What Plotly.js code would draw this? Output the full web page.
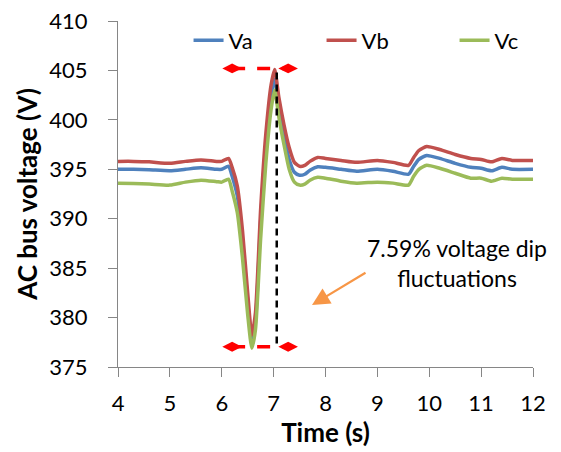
<!DOCTYPE html>
<html>
<head>
<meta charset="utf-8">
<script src="https://cdn.plot.ly/plotly-3.0.1.min.js"></script>
<style>html,body{margin:0;padding:0;background:#fff;}#chart{width:561px;height:452px;}</style>
</head>
<body>
<div id="chart"></div>
<script>
// Time samples (s)
const time = [4, 4.3, 4.6, 5.0, 5.3, 5.6, 5.9, 6.0, 6.13, 6.2, 6.3, 6.4, 6.5, 6.58, 6.65, 6.75, 6.85, 6.95, 7.02, 7.1, 7.2, 7.3, 7.4, 7.5, 7.6, 7.7, 7.85, 8.0, 8.3, 8.6, 9.0, 9.3, 9.6, 9.7, 9.8, 9.95, 10.2, 10.5, 10.8, 11.0, 11.2, 11.4, 11.6, 12];
const va = [395.0, 395.0, 394.95, 394.85, 395.0, 395.15, 395.0, 395.0, 395.3, 394.3, 392.3, 387.8, 381.6, 377.6, 379.6, 389.8, 397.6, 402.5, 404.1, 401.2, 398.3, 396.0, 394.7, 394.4, 394.5, 394.9, 395.25, 395.2, 395.0, 394.8, 395.0, 394.8, 394.5, 395.3, 396.0, 396.4, 396.1, 395.6, 395.2, 395.1, 394.85, 395.2, 395.0, 395.0];
const vb = [395.8, 395.8, 395.75, 395.6, 395.8, 395.95, 395.8, 395.8, 396.1, 395.2, 393.3, 388.8, 382.5, 378.2, 380.5, 391.0, 398.6, 403.5, 405.1, 402.3, 399.5, 397.2, 395.7, 395.3, 395.4, 395.8, 396.2, 396.1, 395.9, 395.7, 395.9, 395.7, 395.4, 396.2, 396.9, 397.3, 397.0, 396.5, 396.1, 396.0, 395.75, 396.1, 395.9, 395.9];
const vc = [393.6, 393.55, 393.5, 393.4, 393.7, 393.9, 393.75, 393.7, 394.0, 392.8, 390.6, 386.0, 380.3, 376.9, 378.8, 388.0, 395.6, 401.0, 403.0, 400.3, 397.5, 395.0, 393.7, 393.4, 393.5, 393.9, 394.2, 394.1, 393.8, 393.6, 393.7, 393.6, 393.4, 394.3, 395.0, 395.4, 395.1, 394.6, 394.1, 394.1, 393.8, 394.1, 394.0, 394.0];
const seriesNames = ["Va", "Vb", "Vc"];
const xTicks = [4, 5, 6, 7, 8, 9, 10, 11, 12];
const yTicks = [375, 380, 385, 390, 395, 400, 405, 410];
// Annotation markers (dip range)
const rangeX = [6.2, 7.28];
const rangeTop = 405.2;
const rangeBottom = 377.05;
const dipMarkX = 7.06;
const noteText = "7.59% voltage dip<br>fluctuations";

const font = "Lato, 'DejaVu Sans', sans-serif";
const colors = ["#4F81BD", "#C0504D", "#9BBB59"];
const vals = [va, vb, vc];

const traces = vals.map((v, i) => ({
  x: time, y: v, name: seriesNames[i], type: "scatter", mode: "lines",
  line: {color: colors[i], width: 3.5, shape: "spline", smoothing: 0.6}
}));

[rangeTop, rangeBottom].forEach(yv => {
  traces.push({
    x: rangeX, y: [yv, yv], type: "scatter", mode: "lines+markers", showlegend: false,
    line: {color: "#FF0000", width: 3.5, dash: "13px,12px"},
    marker: {symbol: "diamond-wide", size: 14, color: "#FF0000"},
    hoverinfo: "skip"
  });
});
traces.push({
  x: [dipMarkX, dipMarkX], y: [rangeTop - 0.4, rangeBottom], type: "scatter", mode: "lines",
  showlegend: false, line: {color: "#000000", width: 2.5, dash: "7px,5px"}, hoverinfo: "skip"
});

const layout = {
  width: 561, height: 452,
  margin: {l: 118, r: 28, t: 21, b: 85, autoexpand: false},
  paper_bgcolor: "#fff", plot_bgcolor: "#fff",
  font: {family: font, size: 21, color: "#000"},
  showlegend: true,
  legend: {
    orientation: "h", x: 0.17, y: 0.944, xanchor: "left", yanchor: "middle",
    entrywidth: 88, entrywidthmode: "pixels", font: {family: font, size: 22},
    bgcolor: "rgba(0,0,0,0)", traceorder: "normal"
  },
  xaxis: {
    range: [4, 12], tickvals: xTicks, ticktext: xTicks.map(String),
    showgrid: false, zeroline: false, showline: true, linecolor: "#868686", linewidth: 1,
    ticks: "outside", ticklen: 9, tickcolor: "#868686", ticklabelstandoff: 8,
    tickfont: {family: font, size: 22},
    title: {text: "<b>Time (s)</b>", font: {family: font, size: 26}, standoff: 0}
  },
  yaxis: {
    range: [375, 410], tickvals: yTicks, ticktext: yTicks.map(String),
    showgrid: false, zeroline: false, showline: true, linecolor: "#868686", linewidth: 1,
    ticks: "outside", ticklen: 9, tickcolor: "#868686", ticklabelstandoff: 16,
    tickfont: {family: font, size: 22},
    title: {text: "<b>AC bus voltage (V)</b>", font: {family: font, size: 26}, standoff: 4}
  },
  annotations: [
    {x: 10.54, y: 385.5, xref: "x", yref: "y", text: noteText, showarrow: false,
     font: {family: font, size: 23, color: "#000"}, align: "center"},
    {x: 7.74, y: 381.27, ax: 8.8, ay: 384.63, axref: "x", ayref: "y", xref: "x", yref: "y",
     text: "", showarrow: true, arrowhead: 2, arrowsize: 1.6, arrowwidth: 2.2, arrowcolor: "#F79646"}
  ]
};

Plotly.newPlot("chart", traces, layout, {displayModeBar: false, staticPlot: true});
</script>
</body>
</html>
